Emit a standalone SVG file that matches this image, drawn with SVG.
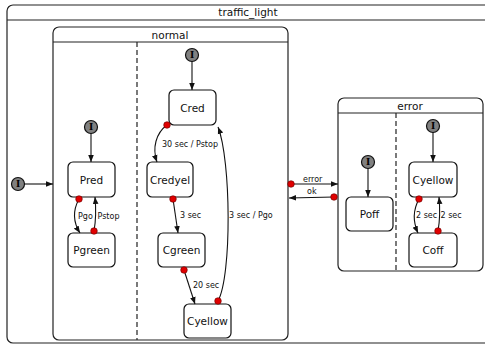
<svg xmlns="http://www.w3.org/2000/svg" width="485" height="344" viewBox="0 0 485 344">
  <style>
    .box { fill: #fff; stroke: #222; stroke-width: 1.2; }
    .hdr { stroke: #222; stroke-width: 1.2; }
    .div { stroke: #222; stroke-width: 1.2; stroke-dasharray: 5 3; }
    .title { font-family: "DejaVu Sans", sans-serif; font-size: 10.5px; fill: #111; text-anchor: middle; }
    .st { fill: #fff; stroke: #111; stroke-width: 1.2; }
    .lbl { font-family: "DejaVu Sans", sans-serif; font-size: 10.5px; fill: #111; text-anchor: middle; }
    .init { fill: #808080; stroke: #111; stroke-width: 1.2; }
    .initI { font-family: "DejaVu Serif", serif; font-weight: bold; font-size: 9px; fill: #000; text-anchor: middle; }
    .edge { fill: none; stroke: #111; stroke-width: 1.1; marker-end: url(#arrow); }
    .src { fill: #e00000; stroke: #600; stroke-width: 0.6; }
    .tl { font-family: "DejaVu Sans", sans-serif; font-size: 8px; fill: #111; }
  </style>
  <defs>
    <marker id="arrow" viewBox="0 0 10 10" refX="10" refY="5" markerWidth="7" markerHeight="7" markerUnits="userSpaceOnUse" orient="auto">
      <path d="M0,1 L10,5 L0,9 Z" fill="#111"/>
    </marker>
  </defs>

  <!-- composite state: traffic_light -->
  <g id="traffic_light">
    <rect class="box" x="7" y="5" width="484" height="338" rx="6"/>
    <line class="hdr" x1="7" y1="20" x2="491" y2="20"/>
    <text class="title" x="248" y="16">traffic_light</text>
  </g>

  <!-- initial pseudo-state of traffic_light -->
  <g id="init_top">
    <circle class="init" cx="18" cy="184" r="6.5"/>
    <text class="initI" x="18" y="187.3">I</text>
  </g>

  <!-- composite state: normal -->
  <g id="normal">
    <rect class="box" x="53" y="27" width="235" height="313" rx="6"/>
    <line class="hdr" x1="53" y1="42" x2="288" y2="42"/>
    <line class="div" x1="137" y1="42" x2="137" y2="340"/>
    <text class="title" x="170" y="38.5">normal</text>
  </g>

  <!-- composite state: error -->
  <g id="error">
    <rect class="box" x="338" y="98" width="145" height="173" rx="6"/>
    <line class="hdr" x1="338" y1="113" x2="483" y2="113"/>
    <line class="div" x1="396" y1="113" x2="396" y2="271"/>
    <text class="title" x="410" y="110">error</text>
  </g>

  <!-- pedestrian region -->
  <g id="init_P">
    <circle class="init" cx="91" cy="127" r="6.5"/>
    <text class="initI" x="91" y="130.3">I</text>
  </g>
  <g id="Pred">
    <rect class="st" x="68" y="162" width="47" height="35" rx="5"/>
    <text class="lbl" x="91.5" y="183.5">Pred</text>
  </g>
  <g id="Pgreen">
    <rect class="st" x="68" y="233" width="47" height="34" rx="5"/>
    <text class="lbl" x="91.5" y="254">Pgreen</text>
  </g>

  <!-- car region -->
  <g id="init_C">
    <circle class="init" cx="192" cy="55" r="6.5"/>
    <text class="initI" x="192" y="58.3">I</text>
  </g>
  <g id="Cred">
    <rect class="st" x="169" y="90" width="47" height="35" rx="5"/>
    <text class="lbl" x="192.5" y="111.5">Cred</text>
  </g>
  <g id="Credyel">
    <rect class="st" x="147" y="162" width="46" height="35" rx="5"/>
    <text class="lbl" x="170" y="183.5">Credyel</text>
  </g>
  <g id="Cgreen">
    <rect class="st" x="158" y="233" width="47" height="34" rx="5"/>
    <text class="lbl" x="181.5" y="254">Cgreen</text>
  </g>
  <g id="Cyellow">
    <rect class="st" x="184" y="304" width="47" height="34" rx="5"/>
    <text class="lbl" x="207.5" y="325">Cyellow</text>
  </g>

  <!-- error regions -->
  <g id="init_Poff">
    <circle class="init" cx="368" cy="162" r="6.5"/>
    <text class="initI" x="368" y="165.3">I</text>
  </g>
  <g id="Poff">
    <rect class="st" x="346" y="197" width="47" height="34" rx="5"/>
    <text class="lbl" x="369.5" y="218">Poff</text>
  </g>
  <g id="init_Cerr">
    <circle class="init" cx="433" cy="126" r="6.5"/>
    <text class="initI" x="433" y="129.3">I</text>
  </g>
  <g id="Cyellow_err">
    <rect class="st" x="409" y="162" width="48" height="35" rx="5"/>
    <text class="lbl" x="433" y="183.5">Cyellow</text>
  </g>
  <g id="Coff">
    <rect class="st" x="409" y="233" width="48" height="34" rx="5"/>
    <text class="lbl" x="433" y="254">Coff</text>
  </g>

  <!-- transitions -->
  <g id="connectors">
    <path class="edge" d="M24.5,184 L53,184"/>
    <path class="edge" d="M91,133.5 L91,162"/>
    <path class="edge" d="M192,61.5 L192,90"/>
    <path class="edge" d="M368,168.5 L368,197"/>
    <path class="edge" d="M433,132.5 L433,162"/>

    <path class="edge" d="M79,199 C73,210 73,222 80,233"/>
    <path class="edge" d="M94,231 C96,220 96,208 95,197"/>
    <path class="edge" d="M167,125 C156,133 152,148 157,162"/>
    <path class="edge" d="M173,199 L178,233"/>
    <path class="edge" d="M184,270 L195,304"/>
    <path class="edge" d="M218,301 C232,275 231,160 218,127"/>

    <path class="edge" d="M419,199 C413,210 413,222 418,233"/>
    <path class="edge" d="M438,231 C440,220 440,208 439,197"/>

    <path class="edge" d="M291,184 L338,184"/>
    <path class="edge" d="M334,197 L289,198"/>

    <circle class="src" cx="79" cy="199" r="3.3"/>
    <circle class="src" cx="94" cy="231" r="3.3"/>
    <circle class="src" cx="167" cy="125" r="3.3"/>
    <circle class="src" cx="173" cy="199" r="3.3"/>
    <circle class="src" cx="184" cy="270" r="3.3"/>
    <circle class="src" cx="218" cy="301" r="3.3"/>
    <circle class="src" cx="419" cy="199" r="3.3"/>
    <circle class="src" cx="438" cy="231" r="3.3"/>
    <circle class="src" cx="291" cy="184" r="3.3"/>
    <circle class="src" cx="334" cy="197" r="3.3"/>

    <text class="tl" x="78" y="218.5">Pgo</text>
    <text class="tl" x="97.5" y="218.5">Pstop</text>
    <text class="tl" x="162" y="147">30 sec / Pstop</text>
    <text class="tl" x="180" y="218">3 sec</text>
    <text class="tl" x="229" y="218">3 sec / Pgo</text>
    <text class="tl" x="193" y="288">20 sec</text>
    <text class="tl" x="303" y="181.5">error</text>
    <text class="tl" x="307" y="194">ok</text>
    <text class="tl" x="416" y="218">2 sec</text>
    <text class="tl" x="440.5" y="218">2 sec</text>
  </g>
</svg>
